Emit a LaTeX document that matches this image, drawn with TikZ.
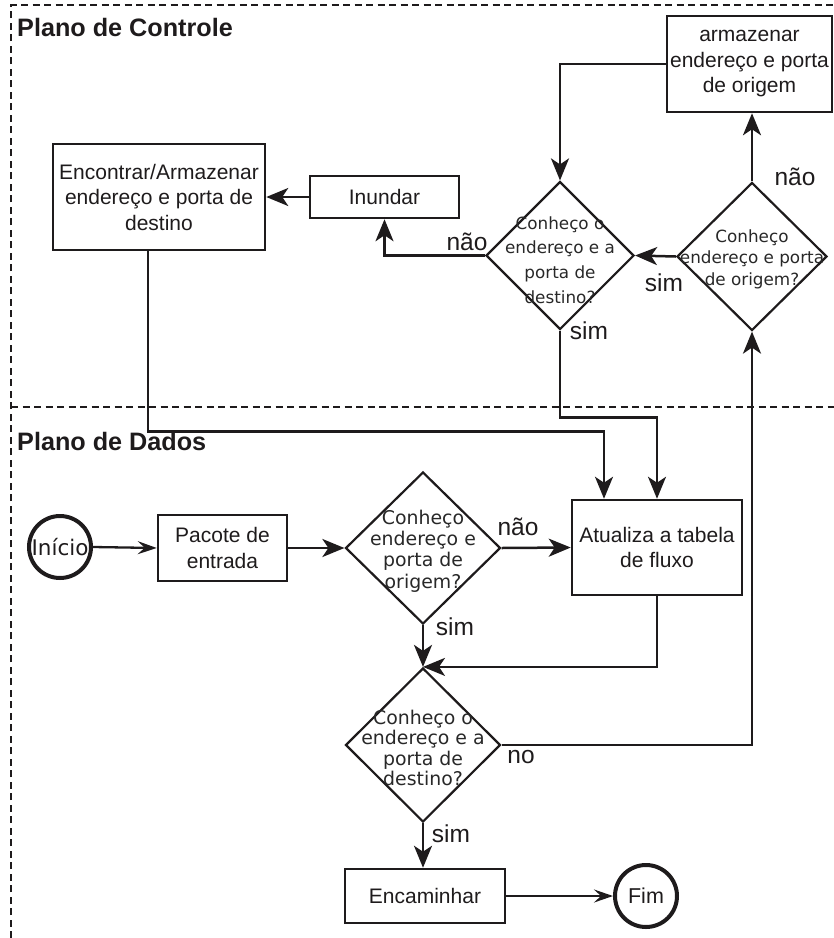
\documentclass[tikz,border=0pt]{standalone}
\usepackage{fontspec}
\setmainfont{Liberation Sans}
\newfontfamily\vfont{DejaVu Sans}
\usetikzlibrary{arrows.meta,shapes.geometric}
\definecolor{ink}{RGB}{30,27,28}
\definecolor{vink}{RGB}{40,40,40}
\begin{document}
\begin{tikzpicture}[x=1pt,y=-1pt,
  every node/.style={text=ink},
  frame/.style={draw=ink,line width=1.6pt,dash pattern=on 7pt off 4.5pt},
  proc/.style={draw=ink,line width=2.5pt,rectangle,inner sep=0pt,align=center,
    font=\fontsize{21}{25.5}\selectfont},
  choice/.style={draw=ink,line width=2.2pt,diamond,inner sep=0pt,aspect=1},
  qtext/.style={align=center,inner sep=0pt,text=vink},
  term/.style={draw=ink,line width=4pt,circle,inner sep=0pt,minimum size=62pt},
  arr/.style={draw=ink,line width=2.5pt,-{Stealth[length=22pt,width=18pt,inset=6pt]}},
  thinarr/.style={draw=ink,line width=2.3pt,-{Stealth[length=19pt,width=13pt,inset=7pt]}},
  lbl/.style={font=\fontsize{24.5}{26}\selectfont,inner sep=0pt},
  head/.style={font=\bfseries\fontsize{25.2}{28}\selectfont,inner sep=0pt,anchor=west}
]
\useasboundingbox (0,0) rectangle (834,938);

% plane frames
\draw[frame] (11,938) -- (11,5) -- (834,5);
\draw[frame] (11,407) -- (834,407);
\node[head] (hctl) at (17,27) {Plano de Controle};
\node[head] (hdat) at (17,441) {Plano de Dados};

% control plane
\node[proc,minimum width=165pt,minimum height=96pt] (arm) at (749.5,64)
  {armazenar\\endereço e porta\\de origem};
\node[choice,minimum width=148pt,minimum height=148pt] (dC1) at (560,255.5) {};
\node[qtext,font=\vfont\fontsize{16.8}{24.7}\selectfont] (dC1t) at (560,260)
  {Conheço o\\endereço e a\\porta de\\destino?};
\node[choice,minimum width=150pt,minimum height=148pt] (dC2) at (752,256.5) {};
\node[qtext,font=\vfont\fontsize{16.8}{21.5}\selectfont] (dC2t) at (752,259)
  {Conheço\\endereço e porta\\de origem?};
\node[proc,minimum width=149pt,minimum height=42pt] (inu) at (384.5,197) {Inundar};
\node[proc,minimum width=212pt,minimum height=106pt] (enc) at (159,197)
  {Encontrar/Armazenar\\endereço e porta de\\destino};

% data plane
\node[term,font=\vfont\fontsize{21.5}{24}\selectfont] (ini) at (60,547) {Início};
\node[proc,minimum width=129pt,minimum height=66pt] (pac) at (222.5,548)
  {Pacote de\\entrada};
\node[choice,minimum width=155pt,minimum height=152pt] (dD1) at (423,548) {};
\node[qtext,font=\vfont\fontsize{18.9}{21.2}\selectfont] (dD1t) at (423,551)
  {Conheço\\endereço e\\porta de\\origem?};
\node[proc,minimum width=170pt,minimum height=95pt] (atu) at (657,547.5)
  {Atualiza a tabela\\de fluxo};
\node[choice,minimum width=155pt,minimum height=154pt] (dD2) at (423,745) {};
\node[qtext,font=\vfont\fontsize{18.9}{20.5}\selectfont] (dD2t) at (423,748)
  {Conheço o\\endereço e a\\porta de\\destino?};
\node[proc,minimum width=160pt,minimum height=54pt] (emc) at (425,896) {Encaminhar};
\node[term,font=\fontsize{21.5}{24}\selectfont] (fim) at (646,896) {Fim};

% control plane connectors
\draw[arr] (arm.west) -| (dC1.north);
\draw[arr] (dC2.north) -- (dC2.north |- arm.south);
\node[lbl] (lnao1) at (795,177) {não};
\draw[arr] (dC2.west) -- (dC1.east);
\node[lbl] (lsim1) at (664,283) {sim};
\draw[arr] (dC1.west) -| (inu.south);
\node[lbl] (lnao2) at (467,242) {não};
\draw[arr] (inu.west) -- (enc.east);
\draw[arr] ([xshift=-11pt]enc.south) -- ++(0,180) -| ([xshift=-53pt]atu.north);
\draw[arr] (dC1.south) -- ++(0,87) -| (atu.north);
\node[lbl] (lsim2) at (589,331) {sim};

% data plane connectors
\draw[thinarr] (ini.east) -- (pac.west);
\draw[arr] (pac.east) -- (dD1.west);
\draw[arr] (dD1.east) -- (atu.west);
\node[lbl] (lnao3) at (518,527) {não};
\draw[arr] (dD1.south) -- (dD2.north);
\node[lbl] (lsim3) at (455,627) {sim};
\draw[arr] (atu.south) |- (dD2.north);
\draw[arr] (dD2.east) -| (dC2.south);
\node[lbl] (lno) at (521,757) {no};
\draw[arr] (dD2.south) -- (dD2.south |- emc.north);
\node[lbl] (lsim4) at (451,834) {sim};
\draw[thinarr] (emc.east) -- (fim.west);
\end{tikzpicture}
\end{document}
